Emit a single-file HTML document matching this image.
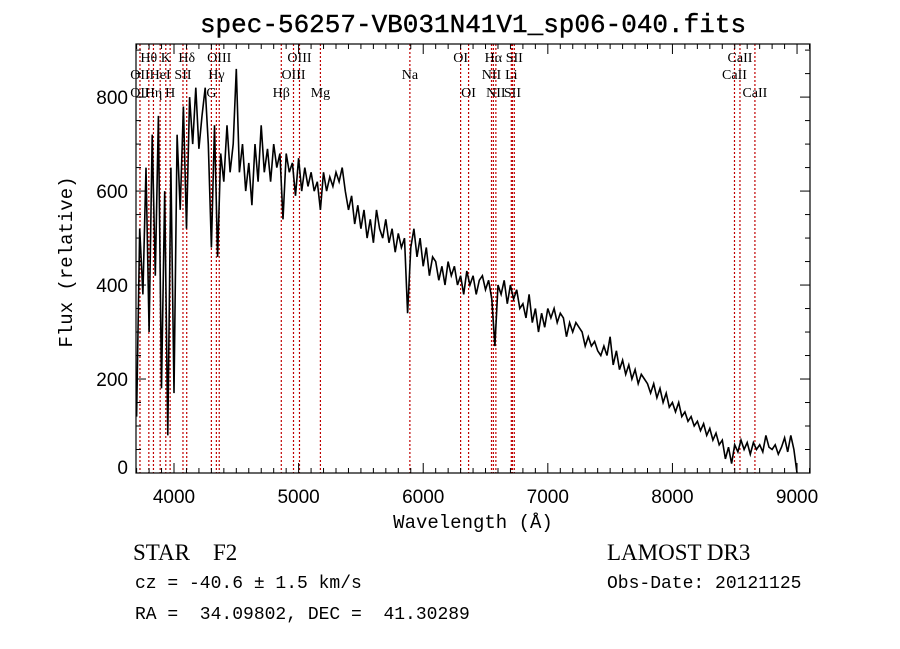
<!DOCTYPE html>
<html><head><meta charset="utf-8"><style>
html,body{margin:0;padding:0;background:#fff;}
svg{display:block;}
text{fill:#000;}
</style></head><body>
<svg id="chart" width="900" height="649" viewBox="0 0 900 649" xmlns="http://www.w3.org/2000/svg">
<rect width="900" height="649" fill="#fff"/>
<text x="473" y="32" text-anchor="middle" font-family="Liberation Mono, monospace" font-size="26" stroke="#000" stroke-width="0.4">spec-56257-VB031N41V1_sp06-040.fits</text>
<g id="lines"></g>
<g id="labels"></g>
<path id="spec" fill="none" stroke="#000" stroke-width="1.6" stroke-linejoin="miter"/>
<g id="ticks"></g>
<rect x="136" y="44" width="674" height="429" fill="none" stroke="#000" stroke-width="1.2"/>
<text x="473" y="528" text-anchor="middle" font-family="Liberation Mono, monospace" font-size="19">Wavelength (Å)</text>
<text x="0" y="0" transform="translate(72,262) rotate(-90)" text-anchor="middle" font-family="Liberation Mono, monospace" font-size="19">Flux (relative)</text>
<text x="133" y="560" font-family="Liberation Serif, serif" font-size="23" xml:space="preserve">STAR    F2</text>
<text x="607" y="560" font-family="Liberation Serif, serif" font-size="23">LAMOST DR3</text>
<text x="135" y="588" font-family="Liberation Mono, monospace" font-size="18">cz = -40.6 ± 1.5 km/s</text>
<text x="607" y="588" font-family="Liberation Mono, monospace" font-size="18">Obs-Date: 20121125</text>
<text x="135" y="619" font-family="Liberation Mono, monospace" font-size="18" xml:space="preserve">RA =  34.09802, DEC =  41.30289</text>
</svg>
<script>
const waveStart = 3700;
const waveStep = 25;
const flux = [120,520,380,650,300,720,420,760,180,600,80,650,170,720,560,780,520,800,700,820,690,760,820,700,480,740,460,680,620,740,640,700,860,640,700,600,660,570,700,620,740,640,690,620,700,650,680,540,680,640,660,590,670,600,650,610,640,600,620,560,640,600,630,610,640,620,650,600,560,590,530,570,520,560,500,540,490,560,520,500,540,490,520,470,510,480,500,340,480,520,460,500,440,480,420,460,450,410,440,400,450,420,440,400,420,380,430,400,420,380,410,420,390,410,370,270,400,380,410,360,400,370,390,350,360,330,380,320,350,300,340,310,350,330,350,320,340,330,290,320,300,320,310,300,270,290,270,280,260,250,270,250,290,230,260,220,240,210,230,200,220,190,210,200,190,170,190,160,180,150,170,140,150,130,150,120,130,110,120,100,110,90,105,80,95,70,85,60,70,30,55,20,60,45,70,50,65,40,65,50,60,45,80,55,50,60,40,55,75,45,80,50,0];
const lineWaves = [3727,3798,3835,3889,3934,3969,4072,4102,4300,4340,4363,4861,4959,5007,5175,5893,6300,6364,6548,6563,6583,6707,6716,6731,8498,8542,8662];
const labelTexts = ["Hθ","K","Hδ","OIII","OIII","OI","Hα","SII","CaII","OII","HeI","SII","Hγ","OIII","Na","NII","Li","CaII","OII","Hη","H","G","Hβ","Mg","OI","NII","SII","CaII"];
const labelWaves = [3798,3934,4102,4363,5007,6300,6563,6731,8542,3727,3889,4072,4340,4959,5893,6548,6707,8498,3727,3835,3969,4300,4861,5175,6364,6583,6716,8662];
const labelRows = [0,0,0,0,0,0,0,0,0,1,1,1,1,1,1,1,1,1,2,2,2,2,2,2,2,2,2,2];
const xTicks = [4000,5000,6000,7000,8000,9000];
const yTicks = [0,200,400,600,800];
const X0=136,X1=810,Y0=473,Y1=44,WMIN=3695,WMAX=9104,FMIN=0,FMAX=913;
const NS='http://www.w3.org/2000/svg';
function xs(w){return X0+(w-WMIN)/(WMAX-WMIN)*(X1-X0);}
function ys(f){return Y0-(f-FMIN)/(FMAX-FMIN)*(Y0-Y1);}
function mk(tag,attrs,parent){const e=document.createElementNS(NS,tag);for(const k in attrs)e.setAttribute(k,attrs[k]);parent.appendChild(e);return e;}
let d='';
flux.forEach((f,i)=>{const w=waveStart+i*waveStep;d+=(i?'L':'M')+xs(w).toFixed(1)+','+ys(f).toFixed(1);});
document.getElementById('spec').setAttribute('d',d);
const gl=document.getElementById('lines');
lineWaves.forEach(w=>{const l=mk('line',{x1:xs(w),x2:xs(w),y1:Y1,y2:Y0,stroke:'#c00000','stroke-width':1.2,'stroke-dasharray':'2,2'},gl);

});
const glb=document.getElementById('labels');
const rowY=[62,79,97];
labelTexts.forEach((t,i)=>{const e=mk('text',{x:xs(labelWaves[i]),y:rowY[labelRows[i]],'text-anchor':'middle','font-family':'Liberation Serif, serif','font-size':14},glb);e.textContent=t;

});
const gt=document.getElementById('ticks');
for(let w=3700;w<=9100;w+=100){const x=xs(w);const L=(w%1000===0)?10:5;
mk('line',{x1:x,x2:x,y1:Y0,y2:Y0-L,stroke:'#000'},gt);mk('line',{x1:x,x2:x,y1:Y1,y2:Y1+L,stroke:'#000'},gt);}
for(let f=0;f<=900;f+=50){const y=ys(f);const L=(f%200===0)?10:5;
mk('line',{x1:X0,x2:X0+L,y1:y,y2:y,stroke:'#000'},gt);mk('line',{x1:X1,x2:X1-L,y1:y,y2:y,stroke:'#000'},gt);}
xTicks.forEach(w=>{const e=mk('text',{x:xs(w),y:503,'text-anchor':'middle','font-family':'Liberation Sans, sans-serif','font-size':19},gt);e.textContent=w;

});
yTicks.forEach(f=>{const e=mk('text',{x:128,y:Math.min(ys(f)+7,474),'text-anchor':'end','font-family':'Liberation Sans, sans-serif','font-size':19},gt);e.textContent=f;

});
</script>
</body></html>
